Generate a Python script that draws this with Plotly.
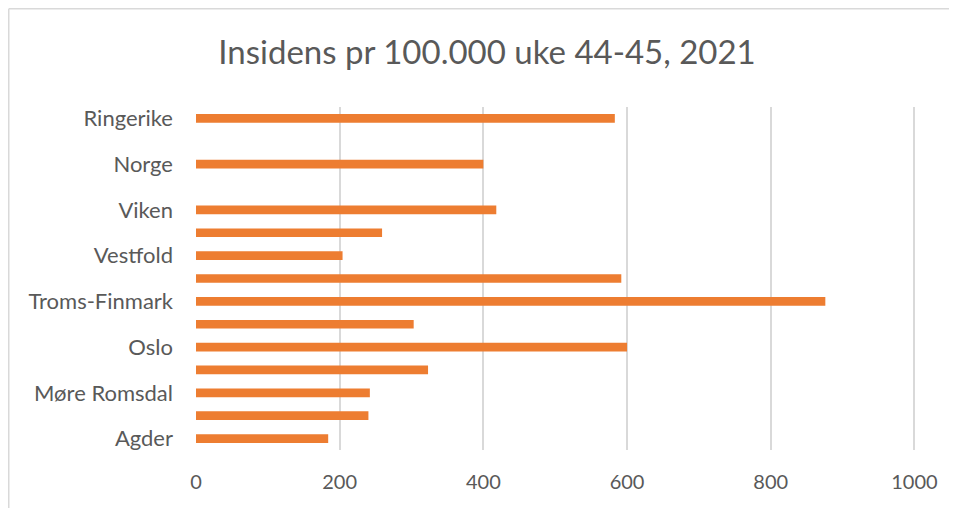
import plotly.graph_objects as go

# Categories from bottom to top (blank slots keep the original spacing)
categories = ["Agder", "Innlandet", "Møre Romsdal", "Nordland", "Oslo", "Rogaland",
              "Troms-Finmark", "Trøndelag", "Vestfold", "Vestland", "Viken", " ",
              "Norge", "  ", "Ringerike"]
values = [184, 240, 242, 323, 600, 303, 876, 592, 204, 259, 418, None, 400, None, 583]
shown_labels = ["Agder", "Møre Romsdal", "Oslo", "Troms-Finmark", "Vestfold",
                "Viken", "Norge", "Ringerike"]
x_ticks = [0, 200, 400, 600, 800, 1000]
title_text = "Insidens pr 100.000 uke 44-45, 2021"

# page has an 8px body margin, so the figure is 8px smaller
W, H = 949, 500
L, T = 188, 99
pw, ph = 722, 343
R = W - L - pw
B = H - T - ph

fig = go.Figure(go.Bar(
    y=categories, x=values, orientation="h",
    marker=dict(color="#ED7D31", line=dict(width=0)),
    width=0.38,
))

def px_x(x):
    return (x - L) / pw

def px_y(y):
    return (H - B - y) / ph

fig.update_layout(
    width=W, height=H,
    margin=dict(l=L, r=R, t=T, b=B),
    paper_bgcolor="white", plot_bgcolor="white",
    font=dict(family="Lato, Open Sans, sans-serif", color="#595959"),
    title=dict(text=title_text, x=479 / W, xref="container", xanchor="center",
               y=1 - 44 / H, yanchor="middle", yref="container",
               font=dict(size=33, color="#595959", family="Lato, sans-serif")),
    showlegend=False,
    xaxis=dict(range=[0, 1005], tickvals=x_ticks, showgrid=True,
               gridcolor="#d9d9d9", gridwidth=1.5, zeroline=False,
               showline=False, ticks="", tickfont=dict(size=20, color="#595959"),
               ticklabelstandoff=18),
    yaxis=dict(type="category", categoryorder="array", categoryarray=categories,
               tickmode="array", tickvals=shown_labels, ticktext=shown_labels,
               showgrid=False, zeroline=False, showline=False, ticks="",
               tickfont=dict(size=22, color="#595959"), ticklabelstandoff=22,
               range=[-0.5, len(categories) - 0.5]),
    shapes=[
        dict(type="line", xref="paper", yref="paper",
             x0=px_x(0.75), x1=px_x(W), y0=px_y(0.75), y1=px_y(0.75),
             line=dict(color="#d9d9d9", width=1.5)),
        dict(type="line", xref="paper", yref="paper",
             x0=px_x(0.75), x1=px_x(0.75), y0=px_y(0.75), y1=px_y(H),
             line=dict(color="#d9d9d9", width=1.5)),
    ],
)

fig.write_html("out.html")
